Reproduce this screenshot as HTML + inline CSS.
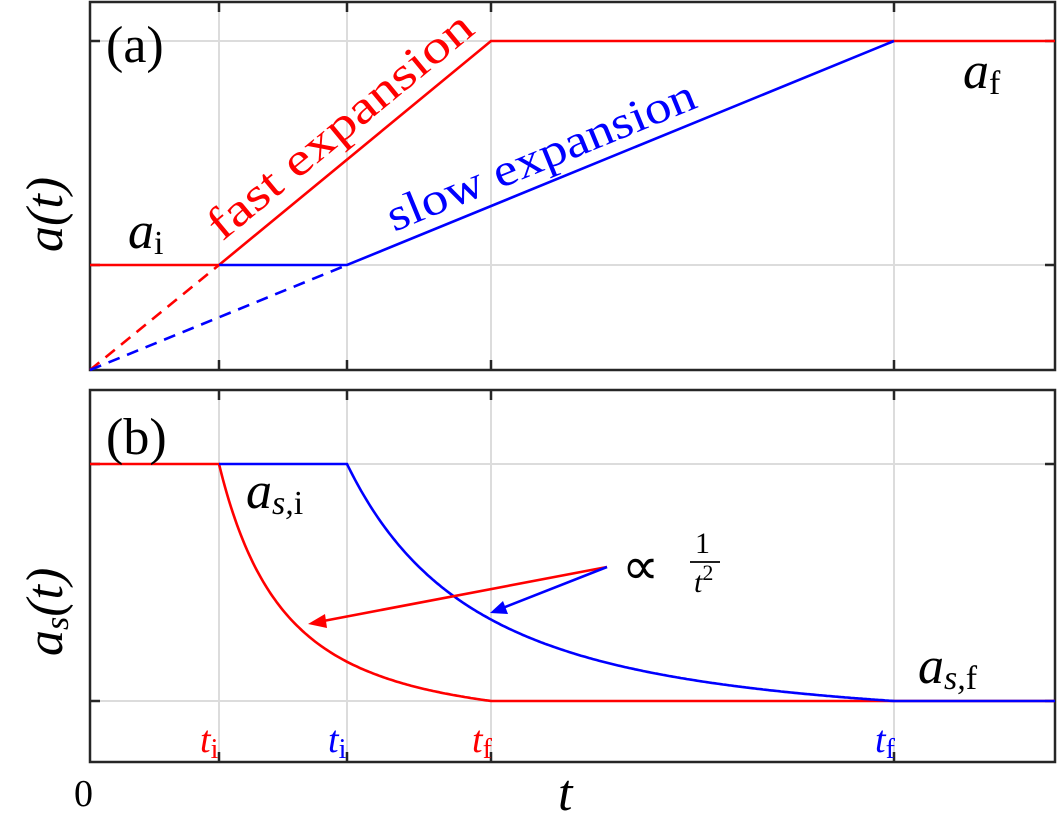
<!DOCTYPE html>
<html><head><meta charset="utf-8"><style>
body{margin:0;background:#fff}
svg text{font-family:"Liberation Serif",serif}
</style></head><body>
<svg id="s" width="1058" height="834" xmlns="http://www.w3.org/2000/svg">
<g stroke="#dcdcdc" stroke-width="2">
<line x1="219" y1="2" x2="219" y2="370"/><line x1="347" y1="2" x2="347" y2="370"/><line x1="491" y1="2" x2="491" y2="370"/><line x1="894" y1="2" x2="894" y2="370"/>
<line x1="90" y1="41" x2="1055" y2="41"/><line x1="90" y1="265" x2="1055" y2="265"/>
<line x1="219" y1="390" x2="219" y2="762"/><line x1="347" y1="390" x2="347" y2="762"/><line x1="491" y1="390" x2="491" y2="762"/><line x1="894" y1="390" x2="894" y2="762"/>
<line x1="90" y1="464" x2="1055" y2="464"/><line x1="90" y1="701" x2="1055" y2="701"/>
</g>
<g stroke="#262626" stroke-width="2.5" fill="none">
<rect x="90" y="2" width="965" height="368"/>
<rect x="90" y="390" width="965" height="372"/>
<path d="M219 2v10M347 2v10M491 2v10M894 2v10M219 370v-10M347 370v-10M491 370v-10M894 370v-10M90 41h10M90 265h10M1055 41h-10M1055 265h-10
M219 390v10M347 390v10M491 390v10M894 390v10M219 762v-10M347 762v-10M491 762v-10M894 762v-10M90 464h10M90 701h10M1055 464h-10M1055 701h-10"/>
</g>
<g fill="none" stroke-width="2.6">
<path d="M90 265H219L491 41H1055" stroke="#f00"/>
<path d="M219 265H347L894 41" stroke="#00f"/>
<path d="M90 370L219 265" stroke="#f00" stroke-dasharray="12,8"/>
<path d="M90 370L347 265" stroke="#00f" stroke-dasharray="12,8"/>
<path id="rb" stroke="#f00"/>
<path id="bb" stroke="#00f"/>
<path d="M607 567L318 622" stroke="#f00"/>
<path d="M607 567L500 609" stroke="#00f"/>
</g>
<polygon points="308,624 325,614 327,628" fill="#f00"/>
<polygon points="490,613 503,601 508,614" fill="#00f"/>
<g font-size="52">
<text x="106" y="62">(a)</text>
<text x="106" y="454">(b)</text>
<text x="128" y="248" font-style="italic">a<tspan font-style="normal" font-size="34" dy="6">i</tspan></text>
<text x="963" y="88" font-style="italic">a<tspan font-style="normal" font-size="34" dy="6">f</tspan></text>
<text x="246" y="508" font-style="italic">a<tspan font-size="34" dy="6">s,</tspan><tspan font-style="normal" font-size="34">i</tspan></text>
<text x="918" y="683" font-style="italic">a<tspan font-size="34" dy="6">s,</tspan><tspan font-style="normal" font-size="34">f</tspan></text>
<text x="622" y="584">∝</text>
<text x="558" y="810" font-style="italic">t</text>
<text x="74" y="806" font-size="38">0</text>
<text transform="translate(62,252) rotate(-90)" font-style="italic">a(t)</text>
<text transform="translate(62,656) rotate(-90)" font-style="italic">a<tspan font-size="34" dy="6">s</tspan><tspan dy="-6">(t)</tspan></text>
<text transform="translate(222,242) rotate(-39.5)" fill="#f00" font-size="46" textLength="330" lengthAdjust="spacingAndGlyphs">fast expansion</text>
<text transform="translate(394,232) rotate(-22.3)" fill="#00f" font-size="46" textLength="330" lengthAdjust="spacingAndGlyphs">slow expansion</text>
</g>
<g font-size="38">
<text x="695" y="553" font-size="30">1</text>
<line x1="690" y1="562" x2="720" y2="562" stroke="#000" stroke-width="1.8"/>
<text x="694" y="592" font-size="30" font-style="italic">t<tspan font-style="normal" font-size="22" dy="-12">2</tspan></text>
<text x="200" y="752" fill="#f00" font-style="italic">t<tspan font-style="normal" font-size="28" dy="6">i</tspan></text>
<text x="328" y="752" fill="#00f" font-style="italic">t<tspan font-style="normal" font-size="28" dy="6">i</tspan></text>
<text x="472" y="752" fill="#f00" font-style="italic">t<tspan font-style="normal" font-size="28" dy="6">f</tspan></text>
<text x="875" y="752" fill="#00f" font-style="italic">t<tspan font-style="normal" font-size="28" dy="6">f</tspan></text>
</g>
</svg>
<script>
function curve(xi,xf){var ti=xi-90,tf=xf-90,m=Math.pow(ti/tf,2),d="M90 464H"+xi;
for(var x=xi;x<=xf;x+=2){var v=Math.pow(ti/(x-90),2);d+="L"+x+" "+(464+(1-v)/(1-m)*237).toFixed(1);}
return d+"L"+xf+" 701H1055";}
document.getElementById("rb").setAttribute("d",curve(219,491));
var b=curve(347,894);b=b.replace("M90 464H347","M219 464H347");
document.getElementById("bb").setAttribute("d",b);
</script>
</body></html>
